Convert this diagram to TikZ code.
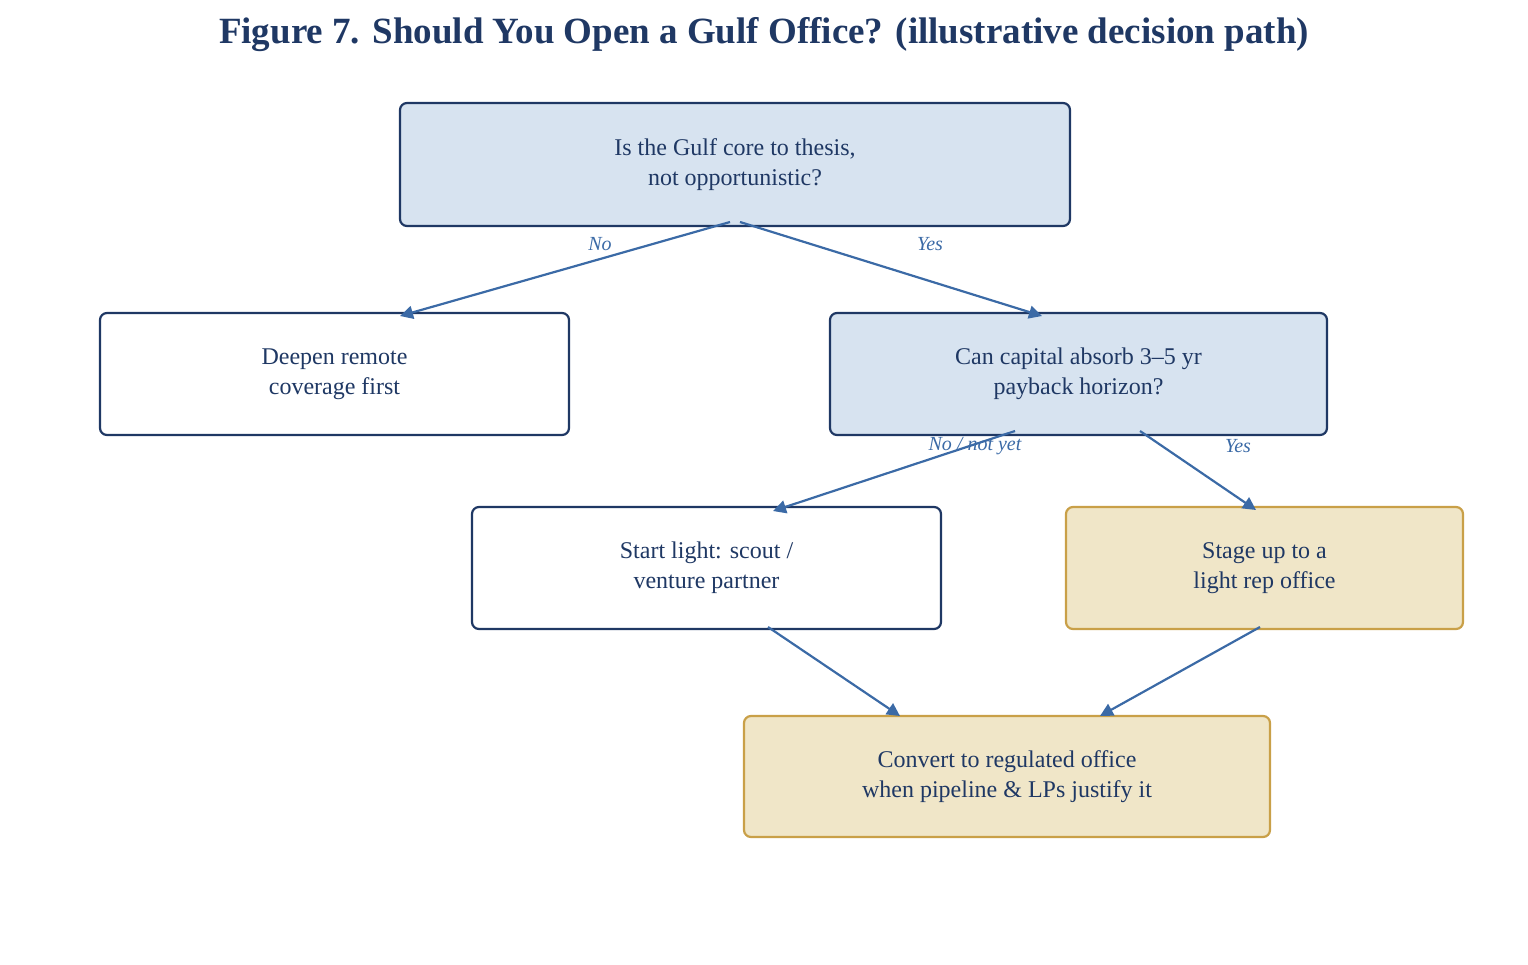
\documentclass[tikz,border=0pt]{standalone}
\usepackage{fontspec}
\setmainfont{Liberation Serif}
\usetikzlibrary{arrows.meta}
\definecolor{navy}{HTML}{1F3864}
\definecolor{lblue}{HTML}{D7E3F0}
\definecolor{beige}{HTML}{F0E6C8}
\definecolor{gold}{HTML}{C9A048}
\definecolor{arr}{HTML}{3B6AA6}
\begin{document}
\begin{tikzpicture}[x=1pt,y=-1pt,
 box/.style={draw=navy,line width=2.2pt,rounded corners=7pt,align=center,text=navy,font=\fontsize{24}{30}\selectfont,inner sep=0pt},
 q/.style={box,fill=lblue},
 w/.style={box,fill=white},
 g/.style={box,fill=beige,draw=gold},
 ar/.style={draw=arr,line width=2.2pt,-{Triangle[length=13pt,width=13pt]}},
 lab/.style={text=arr,font=\fontsize{20}{24}\selectfont\itshape}]
\useasboundingbox (0,0) rectangle (1528,964);
\node[text=navy,font=\fontsize{37}{44}\selectfont\bfseries] (title) at (764,35) {Figure 7. Should You Open a Gulf Office? (illustrative decision path)};
\node[q,minimum width=670pt,minimum height=123pt] (a) at (735,164.5) {Is the Gulf core to thesis,\\not opportunistic?};
\node[w,minimum width=469pt,minimum height=122pt] (b) at (334.5,374) {Deepen remote\\coverage first};
\node[q,minimum width=497pt,minimum height=122pt] (c) at (1078.5,374) {Can capital absorb 3–5 yr\\payback horizon?};
\node[w,minimum width=469pt,minimum height=122pt] (d) at (706.5,568) {Start light: scout /\\venture partner};
\node[g,minimum width=397pt,minimum height=122pt] (e) at (1264.5,568) {Stage up to a\\light rep office};
\node[g,minimum width=526pt,minimum height=121pt] (f) at (1007,776.5) {Convert to regulated office\\when pipeline \& LPs justify it};
\coordinate (a1) at (730,222); \coordinate (a2) at (740,222);
\coordinate (b1) at (400,316); \coordinate (c1) at (1042,316);
\coordinate (c2) at (1015,431); \coordinate (c3) at (1140,431);
\coordinate (d1) at (773,511); \coordinate (e1) at (1256,510);
\coordinate (d2) at (768,627); \coordinate (e2) at (1260,627);
\coordinate (f1) at (900,716); \coordinate (f2) at (1100,716);
\draw[ar] (a1) -- (b1);
\draw[ar] (a2) -- (c1);
\draw[ar] (c2) -- (d1);
\draw[ar] (c3) -- (e1);
\draw[ar] (d2) -- (f1);
\draw[ar] (e2) -- (f2);
\node[lab] (l1) at (600,244) {No};
\node[lab] (l2) at (930,244) {Yes};
\node[lab] (l3) at (975,446) {No / not yet};
\node[lab] (l4) at (1238,446) {Yes};
\end{tikzpicture}
\end{document}
